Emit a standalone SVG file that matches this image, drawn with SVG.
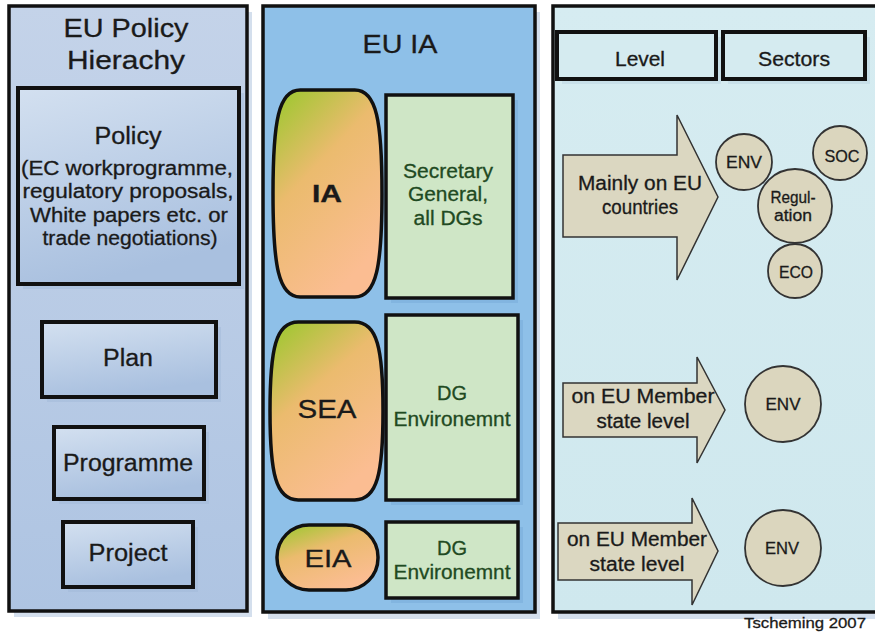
<svg xmlns="http://www.w3.org/2000/svg" width="875" height="635" viewBox="0 0 875 635">
<defs>
<linearGradient id="gLeft" x1="0" y1="0" x2="0" y2="1"><stop offset="0" stop-color="#c4d3e9"/><stop offset="1" stop-color="#aec4e2"/></linearGradient>
<linearGradient id="gBox" x1="0" y1="0" x2="0.3" y2="1"><stop offset="0" stop-color="#d3e0f0"/><stop offset="1" stop-color="#a9c0df"/></linearGradient>
<linearGradient id="gOval" x1="0" y1="0" x2="0.55" y2="1"><stop offset="0" stop-color="#96c92a"/><stop offset="0.45" stop-color="#ebbb6e"/><stop offset="1" stop-color="#fbbd92"/></linearGradient>
<linearGradient id="gRight" x1="0" y1="0" x2="0" y2="1"><stop offset="0" stop-color="#d6ecf1"/><stop offset="1" stop-color="#cfe8ee"/></linearGradient>
</defs>
<style>
.panel{stroke:#111;stroke-width:3.5}
.box{fill:url(#gBox);stroke:#111;stroke-width:4}
.shadow{fill:#9fb7d8;opacity:0.45}
.oval{fill:url(#gOval);stroke:#111;stroke-width:3.5}
.gbox{fill:#cfe6c6;stroke:#111;stroke-width:3.5}
.hbox{fill:#d5ebf0;stroke:#111;stroke-width:4}
.arrow{fill:#dbd7c1;stroke:#333;stroke-width:1.5}
.circ{fill:#dbd6be;stroke:#333;stroke-width:1.8}
text{font-family:"Liberation Sans",Arial,sans-serif;text-anchor:middle;fill:#1a1a1a;stroke:#1a1a1a;stroke-width:0.3}
.g{fill:#1f4a22;stroke:#1f4a22}
</style>

<!-- panel shadows -->
<rect x="14" y="12" width="238" height="605" class="shadow"/>
<rect x="268" y="12" width="272" height="607" class="shadow"/>
<rect x="558" y="12" width="330" height="607" class="shadow"/>

<g id="panel-left">
<rect x="9" y="6" width="238" height="605" fill="url(#gLeft)" class="panel"/>
<text x="126" y="37" font-size="26" textLength="125" lengthAdjust="spacingAndGlyphs">EU Policy</text>
<text x="126" y="69" font-size="26" textLength="118" lengthAdjust="spacingAndGlyphs">Hierachy</text>
</g>
<g id="policy">
<rect x="23" y="93" width="221" height="196" class="shadow"/>
<rect x="18" y="88" width="221" height="196" class="box"/>
<text x="128" y="144" font-size="23" textLength="67" lengthAdjust="spacingAndGlyphs">Policy</text>
<text x="127" y="175" font-size="19.5" textLength="212" lengthAdjust="spacingAndGlyphs">(EC workprogramme,</text>
<text x="128" y="198" font-size="19.5" textLength="211" lengthAdjust="spacingAndGlyphs">regulatory proposals,</text>
<text x="129" y="222" font-size="19.5" textLength="198" lengthAdjust="spacingAndGlyphs">White papers etc. or</text>
<text x="130" y="245" font-size="19.5" textLength="175" lengthAdjust="spacingAndGlyphs">trade negotiations)</text>
</g>
<g id="plan">
<rect x="47" y="327" width="174" height="75" class="shadow"/>
<rect x="42" y="322" width="174" height="75" class="box"/>
<text x="128" y="366" font-size="23" textLength="50" lengthAdjust="spacingAndGlyphs">Plan</text>
</g>
<g id="programme">
<rect x="59" y="432" width="150" height="72" class="shadow"/>
<rect x="54" y="427" width="150" height="72" class="box"/>
<text x="128" y="471" font-size="23" textLength="130" lengthAdjust="spacingAndGlyphs">Programme</text>
</g>
<g id="project">
<rect x="68" y="527" width="130" height="65" class="shadow"/>
<rect x="63" y="522" width="130" height="65" class="box"/>
<text x="128" y="561" font-size="23" textLength="79" lengthAdjust="spacingAndGlyphs">Project</text>
</g>

<g id="panel-mid">
<rect x="263" y="6" width="272" height="606" fill="#8ec0e8" class="panel"/>
<text x="400" y="53" font-size="25" textLength="75" lengthAdjust="spacingAndGlyphs">EU IA</text>
</g>
<g id="ia">
<path d="M300.25,90 L354.75,90 C376.55,90 382,121.05 382,193.5 C382,265.95 376.55,297 354.75,297 L300.25,297 C278.45,297 273,265.95 273,193.5 C273,121.05 278.45,90 300.25,90 Z" class="oval"/>
<text x="327" y="202" font-size="23" font-weight="bold" textLength="30" lengthAdjust="spacingAndGlyphs">IA</text>
</g>
<g id="sg">
<rect x="391" y="100" width="127" height="203" fill="#7aaedb" opacity="0.6"/>
<rect x="386" y="95" width="127" height="203" class="gbox"/>
<text x="448" y="178" font-size="19.5" class="g" textLength="90" lengthAdjust="spacingAndGlyphs">Secretary</text>
<text x="448" y="201" font-size="19.5" class="g" textLength="80" lengthAdjust="spacingAndGlyphs">General,</text>
<text x="448" y="225" font-size="19.5" class="g" textLength="69" lengthAdjust="spacingAndGlyphs">all DGs</text>
</g>
<g id="sea">
<path d="M298.25,322 L354.75,322 C377.35,322 383,348.7 383,411 C383,473.3 377.35,500 354.75,500 L298.25,500 C275.65,500 270,473.3 270,411 C270,348.7 275.65,322 298.25,322 Z" class="oval"/>
<text x="327" y="418" font-size="25" textLength="59" lengthAdjust="spacingAndGlyphs">SEA</text>
</g>
<g id="dg1">
<rect x="391" y="320" width="132" height="185" fill="#7aaedb" opacity="0.6"/>
<rect x="386" y="315" width="132" height="185" class="gbox"/>
<text x="452" y="400" font-size="19.5" class="g" textLength="30" lengthAdjust="spacingAndGlyphs">DG</text>
<text x="452" y="426" font-size="19.5" class="g" textLength="117" lengthAdjust="spacingAndGlyphs">Environemnt</text>
</g>
<g id="eia">
<rect x="277" y="525" width="101" height="65" rx="32" ry="32" class="oval"/>
<text x="328" y="567" font-size="24" textLength="47" lengthAdjust="spacingAndGlyphs">EIA</text>
</g>
<g id="dg2">
<rect x="391" y="527" width="132" height="76" fill="#7aaedb" opacity="0.6"/>
<rect x="386" y="522" width="132" height="76" class="gbox"/>
<text x="452" y="555" font-size="19.5" class="g" textLength="30" lengthAdjust="spacingAndGlyphs">DG</text>
<text x="452" y="579" font-size="19.5" class="g" textLength="117" lengthAdjust="spacingAndGlyphs">Environemnt</text>
</g>

<g id="panel-right">
<rect x="553" y="6" width="340" height="606" fill="url(#gRight)" class="panel"/>
</g>
<g id="level">
<rect x="562" y="37" width="159" height="47" fill="#c2dbe6" opacity="0.7"/>
<rect x="557" y="32" width="159" height="47" class="hbox"/>
<text x="640" y="66" font-size="19.5" textLength="50" lengthAdjust="spacingAndGlyphs">Level</text>
</g>
<g id="sectors">
<rect x="728" y="37" width="142" height="47" fill="#c2dbe6" opacity="0.7"/>
<rect x="723" y="32" width="142" height="47" class="hbox"/>
<text x="794" y="66" font-size="19.5" textLength="72" lengthAdjust="spacingAndGlyphs">Sectors</text>
</g>

<g id="connectors">
<path d="M563,155 L677,155 L677,115 L718,197 L677,280 L677,237 L563,237 Z" class="arrow"/>
<path d="M563,383 L697,383 L697,357 L725,410 L697,463 L697,437 L563,437 Z" class="arrow"/>
<path d="M558,523 L692,523 L692,498 L718,551 L692,605 L692,580 L558,580 Z" class="arrow"/>
</g>
<g id="level-eu">
<text x="640" y="190" font-size="19.5" textLength="124" lengthAdjust="spacingAndGlyphs">Mainly on EU</text>
<text x="640" y="214" font-size="19.5" textLength="76" lengthAdjust="spacingAndGlyphs">countries</text>
</g>
<g id="level-ms1">
<text x="643" y="403" font-size="19.5" textLength="143" lengthAdjust="spacingAndGlyphs">on EU Member</text>
<text x="643" y="428" font-size="19.5" textLength="93" lengthAdjust="spacingAndGlyphs">state level</text>
</g>
<g id="level-ms2">
<text x="637" y="546" font-size="19.5" textLength="140" lengthAdjust="spacingAndGlyphs">on EU Member</text>
<text x="637" y="571" font-size="19.5" textLength="95" lengthAdjust="spacingAndGlyphs">state level</text>
</g>

<g id="env1"><circle cx="744" cy="162" r="28" class="circ"/><text x="744" y="168" font-size="16.5" textLength="36" lengthAdjust="spacingAndGlyphs">ENV</text></g>
<g id="soc"><circle cx="840" cy="153" r="27" class="circ"/><text x="842" y="162" font-size="16.5" textLength="35" lengthAdjust="spacingAndGlyphs">SOC</text></g>
<g id="regulation"><circle cx="795" cy="206" r="37" class="circ"/><text x="793" y="203" font-size="16" textLength="45" lengthAdjust="spacingAndGlyphs">Regul-</text><text x="793" y="221" font-size="16" textLength="38" lengthAdjust="spacingAndGlyphs">ation</text></g>
<g id="eco"><circle cx="795" cy="271" r="27" class="circ"/><text x="796" y="278" font-size="16.5" textLength="34" lengthAdjust="spacingAndGlyphs">ECO</text></g>
<g id="env2"><circle cx="783" cy="404" r="38" class="circ"/><text x="783" y="410" font-size="16.5" textLength="35" lengthAdjust="spacingAndGlyphs">ENV</text></g>
<g id="env3"><circle cx="783" cy="548" r="38" class="circ"/><text x="782" y="554" font-size="16.5" textLength="34" lengthAdjust="spacingAndGlyphs">ENV</text></g>

<text x="866" y="628" font-size="15.5" style="text-anchor:end" textLength="122" lengthAdjust="spacingAndGlyphs">Tscheming 2007</text>
</svg>
